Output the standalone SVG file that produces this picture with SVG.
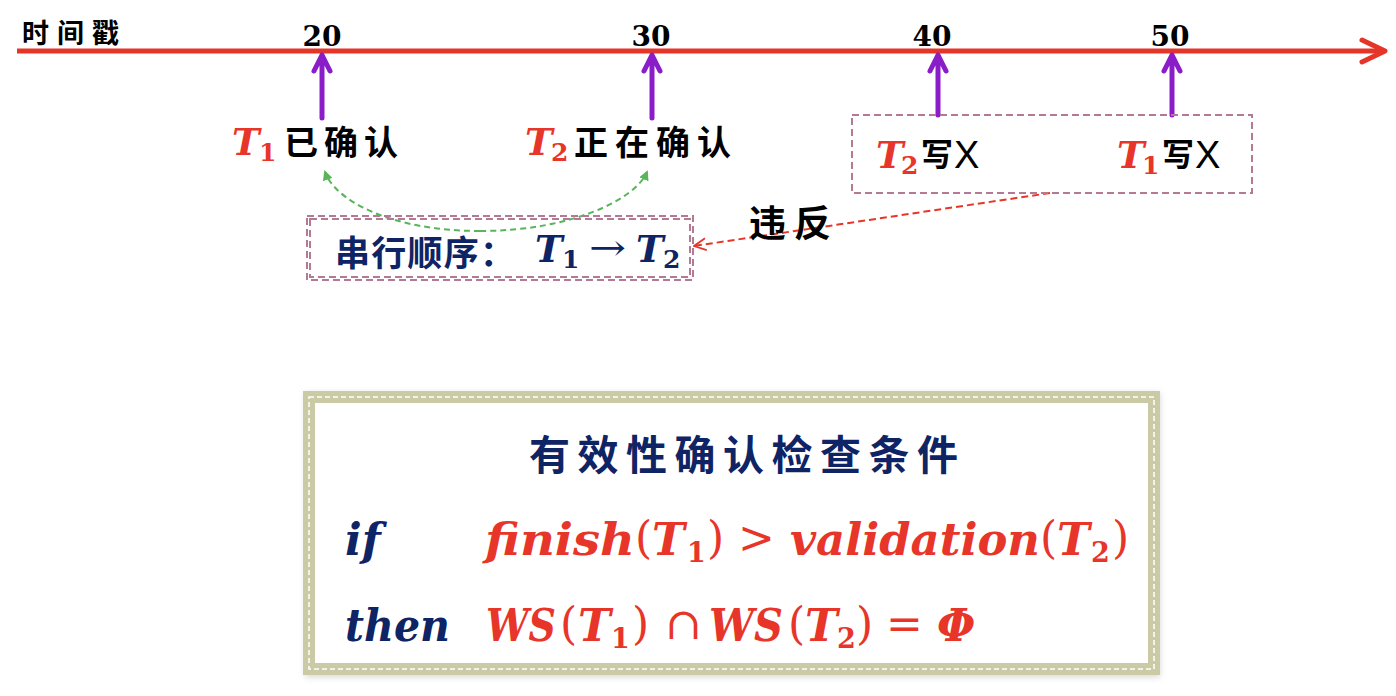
<svg xmlns="http://www.w3.org/2000/svg" width="1396" height="696" viewBox="0 0 1396 696">
<defs>
<style>
.cjk{font-family:"Noto Sans CJK SC",sans-serif;font-weight:700}
.num{font-family:"DejaVu Serif",serif;font-weight:700;font-size:28px;fill:#000}
.tv{font-family:"DejaVu Serif",serif;font-weight:700;font-style:italic}
.sub{font-family:"DejaVu Serif",serif;font-weight:700;font-style:normal}
.red{fill:#E8352A}
.navy{fill:#0F2464}
.up{font-family:"DejaVu Serif",serif;font-weight:400;font-style:normal}
.purple{stroke:#8B1DC9;stroke-width:5;fill:none;stroke-linecap:round;stroke-linejoin:round}
.mauve{fill:none;stroke:#B57A93;stroke-width:2;stroke-dasharray:7 4}
</style>
<filter id="sh" x="-5%" y="-5%" width="110%" height="110%"><feGaussianBlur stdDeviation="3"/></filter>
<marker id="gArr" markerWidth="10" markerHeight="10" refX="8" refY="5" orient="auto" markerUnits="userSpaceOnUse"><path d="M0,0 L10,5 L0,10 Z" fill="#58B55A"/></marker>
<marker id="rArr" markerWidth="14" markerHeight="14" refX="13" refY="7" orient="auto" markerUnits="userSpaceOnUse"><path d="M1,1 L13,7 L1,13" fill="none" stroke="#E8352A" stroke-width="1.8"/></marker>
</defs>
<rect width="1396" height="696" fill="#fff"/>

<g id="timeline">
<line x1="17" y1="51" x2="1383" y2="51" stroke="#E53528" stroke-width="5"/>
<path d="M1362,40 L1385,51 L1362,62" fill="none" stroke="#E53528" stroke-width="5" stroke-linecap="round" stroke-linejoin="round"/>
<text class="cjk" x="22" y="43" font-size="27" textLength="97" fill="#000">时间戳</text>
<text class="num" x="322" y="46" text-anchor="middle">20</text>
<text class="num" x="651" y="46" text-anchor="middle">30</text>
<text class="num" x="932" y="46" text-anchor="middle">40</text>
<text class="num" x="1170" y="46" text-anchor="middle">50</text>
</g>

<g id="connectors">
<path class="purple" d="M322,118 V55 M314,71 L322,55 L330,71"/>
<path class="purple" d="M652,118 V55 M644,71 L652,55 L660,71"/>
<path class="purple" d="M938,115 V55 M930,71 L938,55 L946,71"/>
<path class="purple" d="M1172,115 V55 M1164,71 L1172,55 L1180,71"/>
<path d="M480,231 C390,231 335,200 325,172" fill="none" stroke="#58B55A" stroke-width="2" stroke-dasharray="6 4" marker-end="url(#gArr)"/>
<path d="M480,231 C570,231 635,200 647,172" fill="none" stroke="#58B55A" stroke-width="2" stroke-dasharray="6 4" marker-end="url(#gArr)"/>
<line x1="1050" y1="193" x2="694" y2="246" stroke="#E8352A" stroke-width="2" stroke-dasharray="7 4" marker-end="url(#rArr)"/>
<text class="cjk" x="749" y="237" font-size="37" textLength="82" fill="#000">违反</text>
</g>

<g id="t1-confirmed">
<text class="tv red" x="232" y="155" font-size="37">T</text>
<text class="sub red" x="259" y="161" font-size="25">1</text>
<text class="cjk" x="284" y="155" font-size="34" textLength="114" fill="#000">已确认</text>
</g>

<g id="t2-confirming">
<text class="tv red" x="525" y="155" font-size="37">T</text>
<text class="sub red" x="551" y="161" font-size="25">2</text>
<text class="cjk" x="574" y="155" font-size="34" textLength="157" fill="#000">正在确认</text>
</g>

<g id="writes">
<rect class="mauve" x="852" y="115" width="400" height="78"/>
<text class="tv red" x="876" y="168" font-size="37">T</text>
<text class="sub red" x="901" y="174" font-size="25">2</text>
<text class="cjk" x="921" y="166" font-size="32" fill="#000">写</text>
<text x="954" y="168" font-family="Liberation Sans, sans-serif" font-size="38" fill="#000">X</text>
<text class="tv red" x="1117" y="168" font-size="37">T</text>
<text class="sub red" x="1142" y="174" font-size="25">1</text>
<text class="cjk" x="1162" y="166" font-size="32" fill="#000">写</text>
<text x="1195" y="168" font-family="Liberation Sans, sans-serif" font-size="38" fill="#000">X</text>
</g>

<g id="serial-order">
<rect class="mauve" x="307" y="216" width="386" height="64"/>
<rect class="mauve" x="310" y="219" width="380" height="58"/>
<text class="cjk navy" x="335" y="266" font-size="35" textLength="180">串行顺序：</text>
<text class="tv navy" x="535" y="262" font-size="37">T</text>
<text class="sub navy" x="562" y="268" font-size="25">1</text>
<text class="up navy" x="589" y="260" font-size="36" textLength="37" lengthAdjust="spacingAndGlyphs">→</text>
<text class="tv navy" x="636" y="262" font-size="37">T</text>
<text class="sub navy" x="663" y="268" font-size="25">2</text>
</g>

<g id="condition-box">
<rect x="305" y="393" width="855" height="284" fill="#bbb" opacity="0.6" filter="url(#sh)"/>
<rect x="309" y="397" width="845" height="272" fill="#fff" stroke="#CACAA5" stroke-width="12"/>
<rect x="309" y="397" width="845" height="272" fill="none" stroke="#fff" stroke-width="1.5" stroke-dasharray="5 3"/>
<text class="cjk navy" x="529" y="470" font-size="41" textLength="429">有效性确认检查条件</text>
<text class="tv navy" x="345" y="555" font-size="44">if</text>
<text class="tv navy" x="345" y="641" font-size="44" textLength="105" lengthAdjust="spacingAndGlyphs">then</text>
<text class="red tv" font-size="44" y="555"><tspan x="485" textLength="150" lengthAdjust="spacingAndGlyphs">finish</tspan><tspan class="up" x="635" y="553">(</tspan><tspan x="652" y="555">T</tspan><tspan class="sub" x="687" y="562" font-size="27">1</tspan><tspan class="up" x="707" y="553">)</tspan><tspan class="up" x="738">&gt;</tspan><tspan x="790" y="555" textLength="250" lengthAdjust="spacingAndGlyphs">validation</tspan><tspan class="up" x="1040" y="553">(</tspan><tspan x="1057" y="555">T</tspan><tspan class="sub" x="1091" y="562" font-size="27">2</tspan><tspan class="up" x="1112" y="553">)</tspan></text>
<text class="red tv" font-size="44" y="641"><tspan x="486" textLength="70" lengthAdjust="spacingAndGlyphs">WS</tspan><tspan class="up" x="560" y="639">(</tspan><tspan x="578" y="641">T</tspan><tspan class="sub" x="611" y="648" font-size="27">1</tspan><tspan class="up" x="632" y="639">)</tspan><tspan class="up" x="665">∩</tspan><tspan x="709" y="641" textLength="74" lengthAdjust="spacingAndGlyphs">WS</tspan><tspan class="up" x="788" y="639">(</tspan><tspan x="805" y="641">T</tspan><tspan class="sub" x="837" y="648" font-size="27">2</tspan><tspan class="up" x="856" y="639">)</tspan><tspan class="up" x="886">=</tspan><tspan x="937" y="641">Φ</tspan></text>
</g>
</svg>
